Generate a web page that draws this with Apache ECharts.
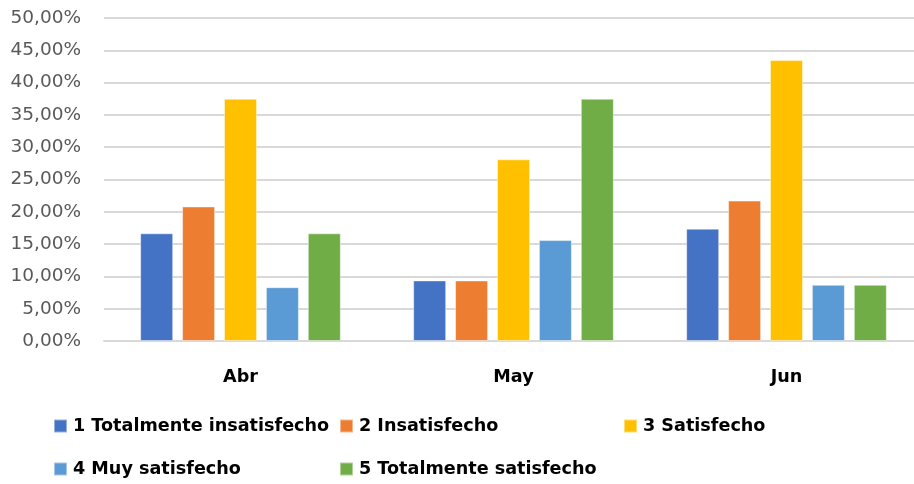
<!DOCTYPE html>
<html>
<head>
<meta charset="utf-8">
<script src="https://cdn.jsdelivr.net/npm/echarts@6/dist/echarts.min.js"></script>
<style>
  html, body { margin: 0; padding: 0; background: #fff; overflow: hidden; }
  #chart { width: 930px; height: 484px; }
</style>
</head>
<body>
<div id="chart"></div>
<script>
// Monthly satisfaction survey: share of answers per level (%)
const months = ['Abr', 'May', 'Jun'];
const levels = [
  '1 Totalmente insatisfecho',
  '2 Insatisfecho',
  '3 Satisfecho',
  '4 Muy satisfecho',
  '5 Totalmente satisfecho'
];
const totalmenteInsatisfecho = [16.67, 9.375, 17.39];
const insatisfecho = [20.83, 9.375, 21.74];
const satisfecho = [37.5, 28.125, 43.48];
const muySatisfecho = [8.33, 15.625, 8.70];
const totalmenteSatisfecho = [16.67, 37.5, 8.70];
const yTicks = [0, 5, 10, 15, 20, 25, 30, 35, 40, 45, 50];

const seriesValues = [
  totalmenteInsatisfecho, insatisfecho, satisfecho, muySatisfecho, totalmenteSatisfecho
];
const colors = ['#4472C4', '#ED7D31', '#FFC000', '#5B9BD5', '#70AD47'];

const FONT = 'DejaVu Sans';
const fmtPct = v => v.toFixed(2).replace('.', ',') + '%';

// Legend entries laid out on a fixed column grid
const legendSlots = [
  { left: 53, top: 417 },
  { left: 339, top: 417 },
  { left: 623, top: 417 },
  { left: 53, top: 460 },
  { left: 339, top: 460 }
];
const legends = levels.map((name, i) => ({
  data: [name],
  left: legendSlots[i].left,
  top: legendSlots[i].top,
  orient: 'horizontal',
  icon: 'rect',
  itemWidth: 13,
  itemHeight: 13,
  padding: 0,
  selectedMode: false,
  textStyle: { fontFamily: FONT, fontWeight: 'bold', fontSize: 17.6, color: '#000', padding: [0, 0, 0, 1] }
}));

const chart = echarts.init(document.getElementById('chart'), null, { renderer: 'canvas' });
chart.setOption({
  animation: false,
  backgroundColor: '#fff',
  legend: legends,
  grid: { left: 104, top: 18, width: 819, height: 323, containLabel: false },
  xAxis: {
    type: 'category',
    data: months,
    axisTick: { show: false },
    axisLine: { show: true, lineStyle: { color: '#d9d9d9', width: 2 } },
    axisLabel: { margin: 27, fontFamily: FONT, fontWeight: 'bold', fontSize: 17.6, color: '#000' }
  },
  yAxis: {
    type: 'value',
    min: yTicks[0],
    max: yTicks[yTicks.length - 1],
    interval: yTicks[1] - yTicks[0],
    axisLine: { show: false },
    axisTick: { show: false },
    splitLine: { lineStyle: { color: '#d9d9d9', width: 2 } },
    axisLabel: { margin: 23, fontFamily: FONT, fontSize: 18.5, color: '#595959', formatter: fmtPct }
  },
  series: levels.map((name, i) => ({
    name,
    type: 'bar',
    data: seriesValues[i],
    barWidth: 33,
    barGap: '27%',
    itemStyle: {
      color: colors[i],
      borderColor: 'rgba(255,255,255,0.45)',
      borderWidth: 1
    }
  }))
});
</script>
</body>
</html>
